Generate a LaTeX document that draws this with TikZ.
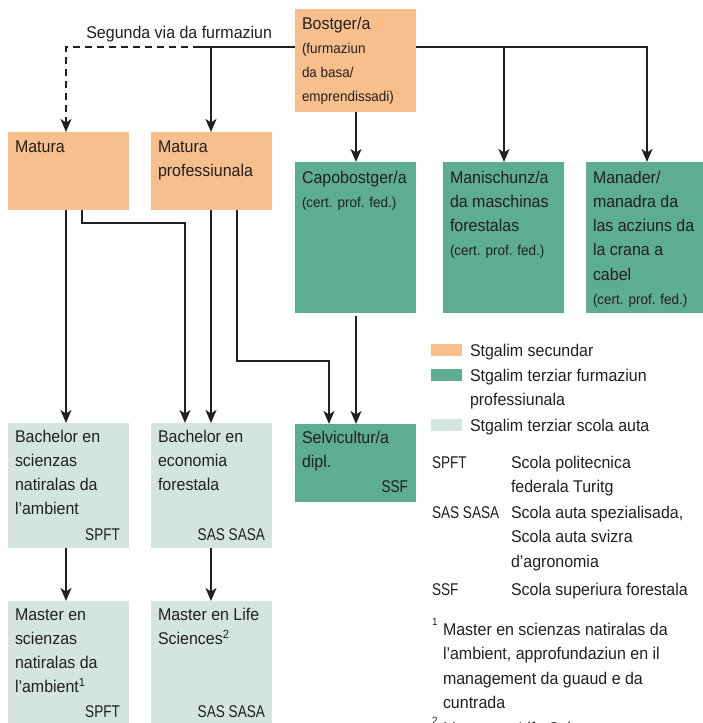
\documentclass[tikz,border=0pt]{standalone}
\usepackage{fontspec}
\setmainfont[FakeStretch=0.94]{Liberation Sans}
\newfontfamily\capsfam[FakeStretch=0.8]{Liberation Sans}
\usetikzlibrary{arrows.meta,calc}
\definecolor{orng}{RGB}{247,191,139}
\definecolor{grn}{RGB}{93,173,145}
\definecolor{lgt}{RGB}{211,229,221}
\definecolor{ink}{RGB}{35,31,32}
\newcommand\fbigg{\fontsize{17}{24.3}\selectfont}
\newcommand\fsmll{\fontsize{14.3}{24.3}\selectfont}
\newcommand\flegd{\fontsize{17}{24.6}\selectfont}
\newcommand\fsupp{\fontsize{10.5}{12}\selectfont}
\newcommand\fls{\rule{0pt}{18pt}}
\begin{document}
\begin{tikzpicture}[x=1pt,y=-1pt,
 box/.style={anchor=north west, inner sep=0, outer sep=0, minimum width=121pt},
 txt/.style={anchor=north west, yshift=18pt, align=left, inner sep=0, outer sep=0, text=ink, font=\fbigg},
 leg/.style={txt, font=\flegd},
 abbr/.style={txt, font=\capsfam\flegd},
 tag/.style={anchor=base east, inner sep=0, outer sep=0, text=ink, font=\capsfam\fbigg},
 seglab/.style={anchor=base east, inner sep=0, outer sep=0, text=ink, font=\fbigg},
 sup/.style={anchor=base west, inner sep=0, outer sep=0, text=ink, font=\fsupp},
 arr/.style={line width=1.8pt, draw=ink, -{Stealth[length=13pt,width=11pt,inset=3.5pt]}},
 ln/.style={line width=1.8pt, draw=ink}]
\useasboundingbox (0,0) rectangle (703,723);
% boxes
\node[box, fill=orng, minimum height=103pt] (bost) at (295,9) {};
\node[box, fill=orng, minimum height=78pt] (mat) at (8,132) {};
\node[box, fill=orng, minimum height=78pt] (matp) at (151,132) {};
\node[box, fill=grn, minimum height=151pt] (capo) at (295,162) {};
\node[box, fill=grn, minimum height=151pt] (mani) at (443,162) {};
\node[box, fill=grn, minimum height=151pt, minimum width=121pt] (mand) at (586,162) {};
\node[box, fill=lgt, minimum height=125pt] (bach1) at (8,423) {};
\node[box, fill=lgt, minimum height=125pt] (bach2) at (151,423) {};
\node[box, fill=grn, minimum height=78pt] (selv) at (295,424) {};
\node[box, fill=lgt, minimum height=126pt] (mast1) at (8,601) {};
\node[box, fill=lgt, minimum height=126pt] (mast2) at (151,601) {};
% texts
\node[txt] (tbost) at (302,29) {\fls Bostger/a\\{\fsmll (furmaziun}\\{\fsmll da basa/}\\{\fsmll emprendissadi)}};
\node[txt] (tmat) at (15,152) {\fls Matura};
\node[txt] (tmatp) at (158,152) {\fls Matura\\professiunala};
\node[txt] (tcapo) at (302,183) {\fls Capobostger/a\\{\fsmll (cert. prof. fed.)}};
\node[txt] (tmani) at (450,183) {\fls Manischunz/a\\da maschinas\\forestalas\\{\fsmll (cert. prof. fed.)}};
\node[txt] (tmand) at (593,183) {\fls Manader/\\manadra da\\las acziuns da\\la crana a\\cabel\\{\fsmll (cert. prof. fed.)}};
\node[txt] (tbach1) at (15,442) {\fls Bachelor en\\scienzas\\natiralas da\\l’ambient};
\node[tag] (gbach1) at (120,540) {SPFT};
\node[txt] (tbach2) at (158,442) {\fls Bachelor en\\economia\\forestala};
\node[tag] (gbach2) at (265,540) {SAS SASA};
\node[txt] (tselv) at (302,443) {\fls Selvicultur/a\\dipl.};
\node[tag] (gselv) at (408,492) {SSF};
\node[txt] (tmast1) at (15,620) {\fls Master en\\scienzas\\natiralas da\\l’ambient\textsuperscript{1}};
\node[tag] (gmast1) at (120,717) {SPFT};
\node[txt] (tmast2) at (158,620) {\fls Master en Life\\Sciences\textsuperscript{2}};
\node[tag] (gmast2) at (265,717) {SAS SASA};
\node[seglab] (seg) at (272,38) {Segunda via da furmaziun};
% helper coordinates
\coordinate (hl) at (0,47);
\coordinate (dsh) at (200,47);
\coordinate (yk) at (0,223);
\coordinate (yl) at (0,361);
\coordinate (xa) at (66,0);
\coordinate (xb) at (82,0);
\coordinate (xc) at (185,0);
\coordinate (xd) at (211,0);
\coordinate (xe) at (237,0);
\coordinate (xf) at (329,0);
\coordinate (xg) at (356,0);
\coordinate (xh) at (504,0);
\coordinate (xi) at (647,0);
% connectors
\draw[ln] (bost.west |- hl) -- (dsh);
\draw[arr, dash pattern=on 7pt off 5pt] (dsh) -| (mat.north -| xa);
\draw[arr] (xd |- hl) -- (matp.north -| xd);
\draw[arr] (bost.east |- hl) -| (mand.north -| xi);
\draw[arr] (xh |- hl) -- (mani.north -| xh);
\draw[arr] (bost.south -| xg) -- (capo.north -| xg);
\draw[arr] (mat.south -| xa) -- (bach1.north -| xa);
\draw[arr] (mat.south -| xb) -- (xb |- yk) -| (bach2.north -| xc);
\draw[arr] (matp.south -| xd) -- (bach2.north -| xd);
\draw[arr] (matp.south -| xe) -- (xe |- yl) -| (selv.north -| xf);
\draw[arr, shorten <=3pt] (capo.south -| xg) -- (selv.north -| xg);
\draw[arr] (bach1.south -| xa) -- (mast1.north -| xa);
\draw[arr] (bach2.south -| xd) -- (mast2.north -| xd);
% legend
\node[box, fill=orng, minimum width=31pt, minimum height=12pt] (sw1) at (431,344) {};
\node[box, fill=grn, minimum width=31pt, minimum height=12pt] (sw2) at (431,369) {};
\node[box, fill=lgt, minimum width=31pt, minimum height=12pt] (sw3) at (431,419) {};
\node[leg] (l1) at (470,356) {\fls Stgalim secundar};
\node[leg] (l2) at (470,381) {\fls Stgalim terziar furmaziun\\professiunala};
\node[leg] (l3) at (470,431) {\fls Stgalim terziar scola auta};
\node[abbr] (a1) at (432,468) {\fls SPFT};
\node[leg] (a1d) at (511,468) {\fls Scola politecnica\\federala Turitg};
\node[abbr] (a2) at (432,518) {\fls SAS SASA};
\node[leg] (a2d) at (511,518) {\fls Scola auta spezialisada,\\Scola auta svizra\\d’agronomia};
\node[abbr] (a3) at (432,595) {\fls SSF};
\node[leg] (a3d) at (511,595) {\fls Scola superiura forestala};
\node[sup] (f1n) at (432,625) {1};
\node[leg] (f1) at (443,635) {\fls Master en scienzas natiralas da\\l’ambient, approfundaziun en il\\management da guaud e da\\cuntrada};
\node[sup] (f2n) at (432,724) {2};
\node[leg] (f2) at (443,734) {\fls Master en Life Sciences};
\end{tikzpicture}
\end{document}
